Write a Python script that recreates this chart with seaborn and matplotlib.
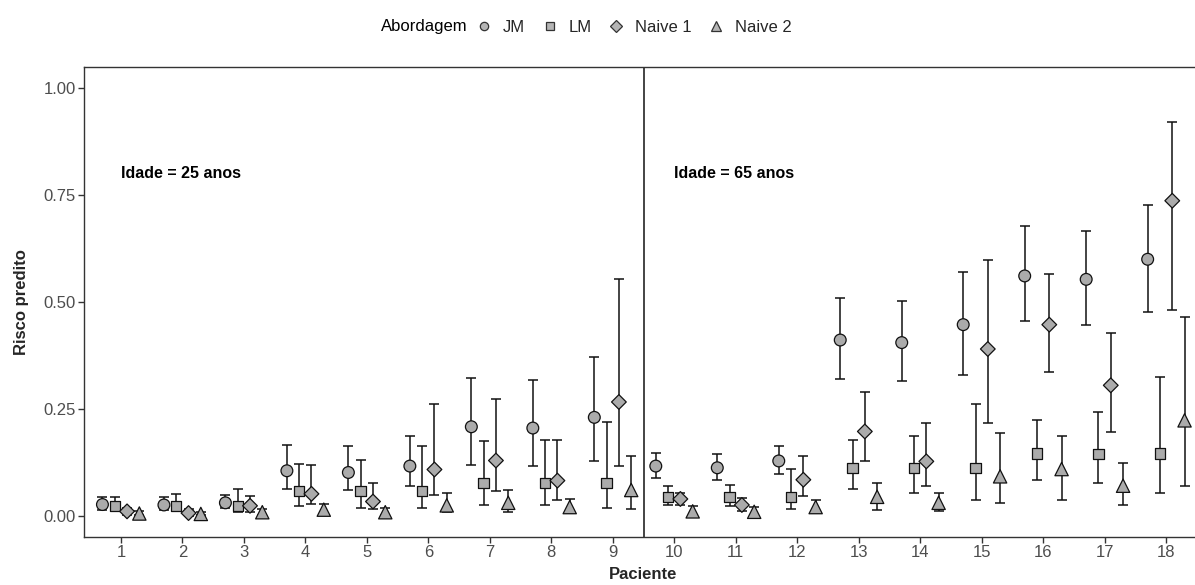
import matplotlib
matplotlib.use("Agg")
import matplotlib.pyplot as plt
import numpy as np
import pandas as pd
import seaborn as sns
from matplotlib.lines import Line2D

# ---- data ----
patients = list(range(1, 19))
approaches = ["JM", "LM", "Naive 1", "Naive 2"]

jm_est = [0.026, 0.025, 0.030, 0.105, 0.101, 0.116, 0.208, 0.205, 0.230,
          0.116, 0.112, 0.128, 0.411, 0.405, 0.447, 0.561, 0.553, 0.600]
jm_lo = [0.014, 0.014, 0.018, 0.062, 0.061, 0.069, 0.118, 0.116, 0.128,
         0.087, 0.084, 0.098, 0.319, 0.315, 0.330, 0.455, 0.446, 0.477]
jm_hi = [0.044, 0.044, 0.048, 0.166, 0.162, 0.187, 0.322, 0.317, 0.371,
         0.147, 0.144, 0.163, 0.510, 0.503, 0.571, 0.677, 0.667, 0.727]

lm_est = [0.022, 0.022, 0.022, 0.058, 0.058, 0.058, 0.076, 0.076, 0.076,
          0.044, 0.044, 0.044, 0.112, 0.112, 0.112, 0.145, 0.144, 0.145]
lm_lo = [0.010, 0.010, 0.008, 0.022, 0.019, 0.018, 0.024, 0.026, 0.018,
         0.024, 0.023, 0.016, 0.063, 0.052, 0.037, 0.084, 0.077, 0.053]
lm_hi = [0.043, 0.050, 0.062, 0.121, 0.131, 0.162, 0.174, 0.178, 0.219,
         0.069, 0.071, 0.108, 0.176, 0.187, 0.262, 0.223, 0.243, 0.325]

n1_est = [0.010, 0.006, 0.023, 0.051, 0.033, 0.108, 0.129, 0.082, 0.266,
          0.039, 0.025, 0.084, 0.197, 0.127, 0.390, 0.447, 0.305, 0.737]
n1_lo = [0.002, 0.000, 0.008, 0.027, 0.016, 0.048, 0.058, 0.036, 0.116,
         0.024, 0.011, 0.046, 0.127, 0.069, 0.217, 0.337, 0.195, 0.481]
n1_hi = [0.019, 0.016, 0.045, 0.119, 0.076, 0.261, 0.273, 0.177, 0.555,
         0.053, 0.041, 0.139, 0.290, 0.217, 0.598, 0.566, 0.427, 0.921]

n2_est = [0.005, 0.004, 0.008, 0.014, 0.008, 0.024, 0.030, 0.020, 0.060,
          0.010, 0.009, 0.020, 0.044, 0.030, 0.092, 0.109, 0.070, 0.223]
n2_lo = [0.001, 0.001, 0.002, 0.002, 0.002, 0.008, 0.009, 0.006, 0.015,
         0.001, 0.000, 0.006, 0.014, 0.010, 0.029, 0.037, 0.025, 0.070]
n2_hi = [0.010, 0.008, 0.016, 0.027, 0.018, 0.054, 0.060, 0.038, 0.140,
         0.022, 0.021, 0.037, 0.076, 0.052, 0.194, 0.187, 0.123, 0.464]

age_labels = ["Idade = 25 anos", "Idade = 65 anos"]
age_label_patient = [1, 10]
age_label_y = 0.80
yticks = [0.00, 0.25, 0.50, 0.75, 1.00]

# ---- long-form table ----
series = {
    "JM": (jm_est, jm_lo, jm_hi),
    "LM": (lm_est, lm_lo, lm_hi),
    "Naive 1": (n1_est, n1_lo, n1_hi),
    "Naive 2": (n2_est, n2_lo, n2_hi),
}
rows = []
for k, name in enumerate(approaches):
    est, lo, hi = series[name]
    for p, e, l, h in zip(patients, est, lo, hi):
        rows.append({"Paciente": p, "Abordagem": name, "risco": e,
                     "lo": l, "hi": h, "k": k})
df = pd.DataFrame(rows)
dodge = 0.8
df["xpos"] = df["Paciente"] + (df["k"] - 1.5) * dodge / len(approaches)

# ---- style ----
sns.set_theme(style="white")
plt.rcParams["font.family"] = ["Liberation Sans", "DejaVu Sans"]

W, H = 1195, 585
fig = plt.figure(figsize=(W / 100, H / 100), dpi=100)
ax_left, ax_right_px, ax_top, ax_bot = 84, 1203, 67, 537
ax = fig.add_axes([ax_left / W, 1 - ax_bot / H,
                   (ax_right_px - ax_left) / W, (ax_bot - ax_top) / H])

fill = "#ababab"
markers = {"JM": "o", "LM": "s", "Naive 1": "D", "Naive 2": "^"}
sizes = {"JM": 72, "LM": 56, "Naive 1": 56, "Naive 2": 92}

for name in approaches:
    d = df[df["Abordagem"] == name]
    ax.errorbar(d["xpos"], d["risco"],
                yerr=[d["risco"] - d["lo"], d["hi"] - d["risco"]],
                fmt="none", ecolor="#111111", elinewidth=1.1,
                capsize=3.6, capthick=1.1, zorder=2)

sns.scatterplot(data=df, x="xpos", y="risco", style="Abordagem",
                markers=markers, size="Abordagem", sizes=sizes,
                color=fill, edgecolor="#111111", linewidth=0.9,
                legend=False, zorder=3, ax=ax)

ax.axvline(9.5, color="#111111", linewidth=1.1, zorder=1)

for lab, p in zip(age_labels, age_label_patient):
    ax.text(p, age_label_y, lab, ha="left", va="center",
            fontsize=11.5, fontweight="bold", color="black")

ax.set_xlim(0.4, 18.6)
ax.set_ylim(-0.05, 1.05)
ax.set_xticks(patients)
ax.set_xticklabels([str(p) for p in patients])
ax.set_yticks(yticks)
ax.set_yticklabels([f"{v:.2f}" for v in yticks])
ax.tick_params(axis="both", which="both", direction="out", length=4,
               width=1, color="#333333", labelcolor="#4d4d4d",
               labelsize=12, pad=2, bottom=True, left=True)

for side in ["left", "top", "bottom"]:
    ax.spines[side].set_color("#333333")
    ax.spines[side].set_linewidth(1.0)
ax.spines["right"].set_visible(False)

ax.set_xlabel("Paciente", fontsize=12, fontweight="bold", labelpad=5)
ax.set_ylabel("Risco predito", fontsize=12, fontweight="bold", labelpad=10)

# ---- legend on top, title inline ----
leg_y = 1 - 27 / H
fig.text(381 / W, leg_y, "Abordagem", ha="left", va="center",
         fontsize=12, color="black")
handles = [Line2D([], [], linestyle="none", marker=markers[a],
                  markersize=6 if a != "Naive 2" else 7,
                  markerfacecolor="#b5b5b5", markeredgecolor="#333333",
                  markeredgewidth=0.9, label=a) for a in approaches]
fig.legend(handles=handles, loc="center left",
           bbox_to_anchor=(476 / W, leg_y), ncol=4, frameon=False,
           fontsize=12, handlelength=1.0, handletextpad=0.6,
           columnspacing=1.0, borderpad=0, borderaxespad=0)

fig.savefig("out.png", dpi=100)
